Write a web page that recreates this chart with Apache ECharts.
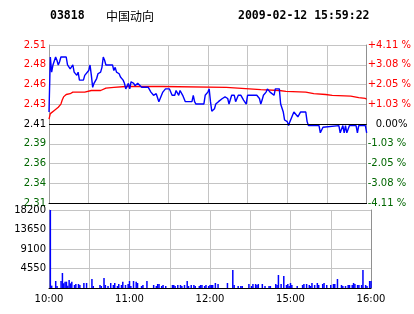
<!DOCTYPE html>
<html>
<head>
<meta charset="utf-8">
<script src="https://cdn.jsdelivr.net/npm/echarts@6/dist/echarts.min.js"></script>
<style>
html,body{margin:0;padding:0;background:#fff;}
#chart{width:414px;height:314px;}
</style>
</head>
<body>
<div id="chart"></div>
<script>
// ---- data ----
const stockCode = '03818';
const stockName = '中国动向';
const stamp = '2009-02-12 15:59:22';
const preClose = 2.41;
const pctRange = 4.11;

const priceTickLabels = ['2.31','2.34','2.36','2.39','2.41','2.43','2.46','2.48','2.51'];
const pctTickLabels = ['-4.11 %','-3.08 %','-2.05 %','-1.03 %','0.00%','+1.03 %','+2.05 %','+3.08 %','+4.11 %'];
const volTickLabels = ['','4550','9100','13650','18200'];
const timeTickLabels = ['10:00','','11:00','','12:00','','15:00','','16:00'];

const priceTimes = ['10:00','10:01','10:02','10:03','10:04','10:05','10:06','10:07','10:08','10:09','10:13','10:14','10:15','10:16','10:17','10:18','10:19','10:20','10:21','10:22','10:23','10:26','10:27','10:30','10:31','10:32','10:33','10:34','10:36','10:37','10:39','10:40','10:41','10:42','10:43','10:48','10:49','10:50','10:51','10:53','10:54','10:55','10:56','10:57','10:58','11:00','11:01','11:02','11:03','11:04','11:05','11:07','11:08','11:10','11:15','11:17','11:18','11:19','11:21','11:22','11:23','11:25','11:26','11:28','11:31','11:32','11:33','11:35','11:36','11:37','11:38','11:39','11:40','11:41','11:43','11:48','11:49','11:50','11:51','11:57','11:58','12:00','12:01','12:02','12:03','12:05','12:06','12:08','12:11','12:13','12:15','12:16','12:18','12:20','12:21','12:23','12:25','12:27','12:29','12:30','14:37','14:39','14:40','14:41','14:42','14:44','14:45','14:47','14:48','14:50','14:51','14:54','14:55','14:56','14:57','14:58','15:00','15:01','15:02','15:03','15:05','15:06','15:08','15:09','15:10','15:14','15:15','15:16','15:24','15:25','15:27','15:28','15:39','15:40','15:42','15:43','15:44','15:45','15:47','15:52','15:53','15:54','15:59','16:00'];
const prices = [2.425,2.494,2.475,2.484,2.484,2.494,2.490,2.484,2.488,2.494,2.494,2.484,2.484,2.479,2.479,2.484,2.475,2.475,2.471,2.475,2.465,2.465,2.471,2.477,2.484,2.471,2.456,2.461,2.467,2.473,2.475,2.481,2.494,2.490,2.484,2.484,2.477,2.481,2.475,2.473,2.469,2.471,2.465,2.461,2.454,2.461,2.454,2.463,2.465,2.461,2.458,2.461,2.461,2.456,2.456,2.450,2.452,2.446,2.448,2.446,2.438,2.446,2.450,2.454,2.454,2.452,2.446,2.446,2.452,2.454,2.446,2.452,2.454,2.446,2.438,2.438,2.446,2.438,2.435,2.435,2.446,2.450,2.454,2.438,2.426,2.429,2.435,2.438,2.442,2.444,2.442,2.435,2.446,2.446,2.438,2.446,2.446,2.440,2.435,2.446,2.446,2.442,2.435,2.440,2.446,2.450,2.454,2.450,2.448,2.446,2.454,2.454,2.435,2.435,2.425,2.415,2.413,2.408,2.413,2.417,2.425,2.423,2.419,2.417,2.425,2.425,2.413,2.408,2.408,2.399,2.406,2.408,2.408,2.399,2.408,2.399,2.408,2.399,2.408,2.408,2.399,2.408,2.408,2.399];

const avgTimes = ['10:00','10:01','10:02','10:04','10:05','10:07','10:09','10:10','10:11','10:13','10:16','10:18','10:27','10:28','10:32','10:39','10:40','10:43','10:49','10:58','11:26','11:27','12:14','12:15','14:40','14:54','14:59','15:14','15:20','15:29','15:34','15:48','15:54','15:59','16:00'];
const avgPrices = [2.416,2.423,2.424,2.427,2.429,2.431,2.435,2.440,2.444,2.447,2.448,2.450,2.450,2.451,2.452,2.452,2.454,2.455,2.456,2.457,2.457,2.456,2.456,2.455,2.453,2.452,2.451,2.450,2.448,2.447,2.446,2.445,2.443,2.442,2.441];

const volTimes = ['10:01','10:02','10:05','10:06','10:09','10:10','10:11','10:12','10:13','10:14','10:15','10:16','10:17','10:19','10:20','10:22','10:23','10:26','10:28','10:32','10:33','10:38','10:39','10:41','10:42','10:44','10:46','10:48','10:49','10:51','10:52','10:54','10:55','10:57','10:59','11:00','11:01','11:03','11:05','11:06','11:09','11:10','11:13','11:18','11:20','11:21','11:22','11:24','11:25','11:27','11:32','11:33','11:34','11:36','11:38','11:39','11:41','11:43','11:44','11:46','11:48','11:49','11:52','11:53','11:54','11:56','11:57','11:59','12:00','12:01','12:02','12:04','12:06','12:13','12:17','12:18','12:21','12:23','12:24','12:29','14:31','14:32','14:34','14:35','14:36','14:39','14:41','14:44','14:45','14:49','14:50','14:51','14:53','14:55','14:57','14:58','14:59','15:00','15:01','15:05','15:09','15:10','15:12','15:14','15:15','15:16','15:18','15:20','15:21','15:24','15:25','15:27','15:30','15:32','15:33','15:35','15:38','15:39','15:41','15:43','15:44','15:46','15:47','15:48','15:50','15:51','15:53','15:54','15:56','15:57','15:59','16:00'];
const volumes = [18200,550,1630,470,1630,3500,1090,1480,1480,550,1870,1090,1480,700,930,930,700,1170,1170,2100,470,700,470,2330,700,470,1170,700,1170,470,930,700,1480,700,930,1630,470,1630,1480,1170,470,700,1630,700,470,930,930,470,700,470,700,700,470,700,700,470,700,1630,470,700,700,470,470,700,700,470,700,470,700,700,700,1170,930,1170,4200,700,470,470,470,930,470,930,930,700,930,930,470,470,470,930,700,3030,930,2800,700,930,470,1170,700,470,700,930,930,700,470,1170,700,1170,700,930,1170,700,700,930,930,2100,700,470,470,700,700,700,1170,930,700,700,700,4200,700,470,1630,1630];

// ---- helpers ----
function toMin(t) {
  const p = t.split(':').map(Number);
  let v = p[0] * 60 + p[1] - 600;
  if (v > 150) v -= 120; // lunch break 12:30-14:30
  return v;
}
function pct(p) { return (p - preClose) / preClose * 100; }
const pctStep = pctRange / 4;
function tickIndex(v) { return Math.round((v + pctRange) / pctStep); }

const FONT = 'DejaVu Sans';
const RED = '#ff0000', GREEN = '#006600', GRID = '#c4c4c4', AXIS = '#a0a0a0';

const chart = echarts.init(document.getElementById('chart'), null, {renderer: 'canvas'});
chart.setOption({
  animation: false,
  backgroundColor: '#ffffff',
  graphic: [
    {type: 'text', x: 50, y: 16, style: {text: stockCode, font: 'bold 11.5px "DejaVu Sans Mono"', fill: '#000', verticalAlign: 'middle'}},
    {type: 'text', x: 106, y: 16, style: {text: stockName, font: '12px "Noto Sans CJK SC"', fill: '#000', verticalAlign: 'middle'}},
    {type: 'text', x: 238, y: 16, style: {text: stamp, font: 'bold 11.5px "DejaVu Sans Mono"', fill: '#000', verticalAlign: 'middle'}}
  ],
  grid: [
    {left: 49, top: 45, width: 322, height: 158},
    {left: 49, top: 210, width: 322, height: 78}
  ],
  xAxis: [
    {type: 'value', gridIndex: 0, min: 0, max: 240, interval: 30,
     axisLine: {show: true, onZero: false, lineStyle: {color: '#000', width: 1}},
     axisTick: {show: false}, axisLabel: {show: false},
     splitLine: {show: true, lineStyle: {color: GRID, width: 1}}},
    {type: 'value', gridIndex: 1, min: 0, max: 240, interval: 30,
     axisLine: {show: true, onZero: false, lineStyle: {color: '#000', width: 1}},
     axisTick: {show: false},
     axisLabel: {show: true, margin: 6, fontFamily: FONT, fontSize: 10, color: '#000',
       formatter: function (v) { return timeTickLabels[Math.round(v / 30)] || ''; }},
     splitLine: {show: true, lineStyle: {color: GRID, width: 1}}}
  ],
  yAxis: [
    {type: 'value', gridIndex: 0, min: -pctRange, max: pctRange, interval: pctStep,
     axisLine: {show: true, lineStyle: {color: AXIS}}, axisTick: {show: false},
     splitLine: {show: true, lineStyle: {color: GRID, width: 1}},
     axisLabel: {margin: 3, fontFamily: FONT, fontSize: 10,
       formatter: function (v) {
         const i = tickIndex(v);
         const s = priceTickLabels[i];
         return i > 4 ? '{r|' + s + '}' : (i === 4 ? '{k|' + s + '}' : '{g|' + s + '}');
       },
       rich: {r: {color: RED, fontFamily: FONT, fontSize: 10}, k: {color: '#000', fontFamily: FONT, fontSize: 10}, g: {color: GREEN, fontFamily: FONT, fontSize: 10}}}},
    {type: 'value', gridIndex: 0, position: 'right', min: -pctRange, max: pctRange, interval: pctStep,
     axisLine: {show: true, lineStyle: {color: '#909090'}}, axisTick: {show: false},
     splitLine: {show: false},
     axisLabel: {margin: 1, fontFamily: FONT, fontSize: 10,
       formatter: function (v) {
         const i = tickIndex(v);
         const s = pctTickLabels[i];
         return i > 4 ? '{r|' + s + '}' : (i === 4 ? '{k|' + s + '}' : '{g|' + s + '}');
       },
       rich: {r: {color: RED, fontFamily: FONT, fontSize: 10}, k: {color: '#000', fontFamily: FONT, fontSize: 10, padding: [0, 0, 0, 8]}, g: {color: GREEN, fontFamily: FONT, fontSize: 10}}}},
    {type: 'value', gridIndex: 1, min: 0, max: 18200, interval: 4550,
     axisLine: {show: true, lineStyle: {color: AXIS}}, axisTick: {show: false},
     splitLine: {show: true, lineStyle: {color: GRID, width: 1}},
     axisLabel: {margin: 3, fontFamily: FONT, fontSize: 10, color: '#000',
       formatter: function (v) { return volTickLabels[Math.round(v / 4550)] || ''; }}},
    {type: 'value', gridIndex: 1, position: 'right', min: 0, max: 18200, interval: 4550,
     axisLine: {show: true, lineStyle: {color: '#909090'}}, axisTick: {show: false},
     splitLine: {show: false}, axisLabel: {show: false}}
  ],
  series: [
    {type: 'line', xAxisIndex: 0, yAxisIndex: 0, symbol: 'none',
     data: avgTimes.map((t, i) => [toMin(t), pct(avgPrices[i])]),
     lineStyle: {color: RED, width: 1.3}, z: 3},
    {type: 'line', xAxisIndex: 0, yAxisIndex: 0, symbol: 'none',
     data: priceTimes.map((t, i) => [toMin(t), pct(prices[i])]),
     lineStyle: {color: '#0000ff', width: 1.4}, z: 4,
     markLine: {silent: true, symbol: 'none', label: {show: false},
       lineStyle: {color: '#000', type: 'solid', width: 1.2},
       data: [{yAxis: 0}]}},
    {type: 'bar', xAxisIndex: 1, yAxisIndex: 2, barWidth: 1.5,
     itemStyle: {color: '#0000ff'},
     data: volTimes.map((t, i) => [toMin(t), volumes[i]])}
  ]
});
</script>
</body>
</html>
